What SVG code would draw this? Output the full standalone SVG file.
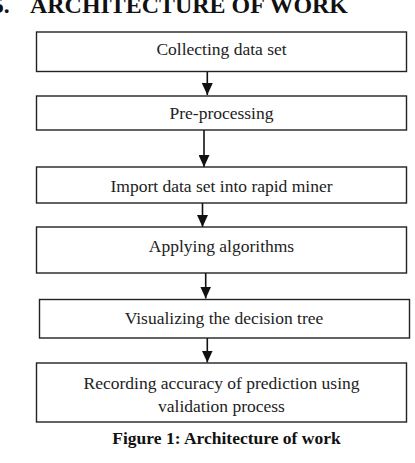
<svg xmlns="http://www.w3.org/2000/svg" width="415" height="463" viewBox="0 0 415 463">
<style>
.box{fill:#fff;stroke:#222;stroke-width:1.4}
.t{font-family:"Liberation Serif","Times New Roman",serif;font-size:17.5px;fill:#222;text-anchor:middle}
.h{font-family:"Liberation Serif","Times New Roman",serif;font-weight:bold;fill:#111}
.c{stroke:#111;stroke-width:1.6;fill:none}
</style>
<defs>
<marker id="ah" viewBox="0 0 12 11" refX="12" refY="5.5" markerWidth="12" markerHeight="11" markerUnits="userSpaceOnUse" orient="auto">
<path d="M0,0 L12,5.5 L0,11 Z" fill="#111"/>
</marker>
</defs>
<rect width="415" height="463" fill="#fff"/>
<text class="h" x="-8" y="13" font-size="23.5">5.</text>
<text class="h" x="30" y="13" font-size="23.5" textLength="318" lengthAdjust="spacingAndGlyphs">ARCHITECTURE OF WORK</text>
<g id="connectors">
<line class="c" x1="207.3" y1="71.5" x2="207.3" y2="95" marker-end="url(#ah)"/>
<line class="c" x1="204" y1="129.5" x2="204" y2="167" marker-end="url(#ah)"/>
<line class="c" x1="202.5" y1="203" x2="202.5" y2="227" marker-end="url(#ah)"/>
<line class="c" x1="205.7" y1="272.5" x2="205.7" y2="298.5" marker-end="url(#ah)"/>
<line class="c" x1="207.3" y1="338" x2="207.3" y2="362.5" marker-end="url(#ah)"/>
</g>
<g id="n1">
<rect class="box" x="36.5" y="32" width="370" height="39.5"/>
<text class="t" x="221.5" y="55">Collecting data set</text>
</g>
<g id="n2">
<rect class="box" x="36.5" y="96" width="370" height="34"/>
<text class="t" x="221.5" y="119">Pre-processing</text>
</g>
<g id="n3">
<rect class="box" x="36.5" y="167" width="370" height="36"/>
<text class="t" x="221.5" y="191.5">Import data set into rapid miner</text>
</g>
<g id="n4">
<rect class="box" x="36.5" y="227" width="370" height="46"/>
<text class="t" x="221.5" y="251.5">Applying algorithms</text>
</g>
<g id="n5">
<rect class="box" x="39.5" y="299.5" width="370" height="38.5"/>
<text class="t" x="224" y="323.5">Visualizing the decision tree</text>
</g>
<g id="n6">
<rect class="box" x="36.5" y="363" width="370" height="59"/>
<text class="t" x="221.5" y="388.5">Recording accuracy of prediction using</text>
<text class="t" x="221.5" y="411.5">validation process</text>
</g>
<text class="h" x="226.5" y="444" font-size="17.5" text-anchor="middle">Figure 1: Architecture of work</text>
</svg>
